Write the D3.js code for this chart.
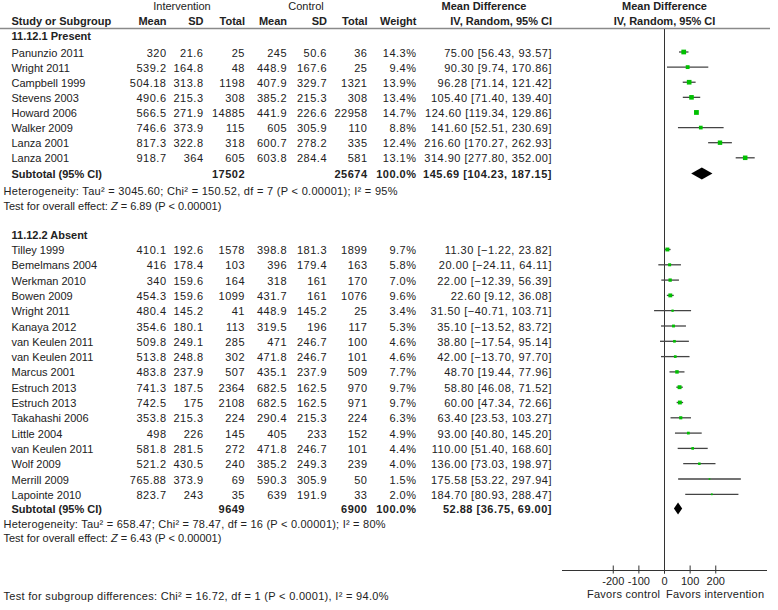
<!DOCTYPE html>
<html>
<head>
<meta http-equiv="Content-Type" content="text/html;charset=utf-8">
<script src="https://d3js.org/d3.v7.min.js"></script>
<style>
  body { margin: 0; background: #fff; }
  text { font-family: "Liberation Sans", Arial, sans-serif; font-size: 11px; fill: #222; }
  .b { font-weight: bold; }
  .n { letter-spacing: 0.5px; }
</style>
</head>
<body>
<div id="chart"></div>
<script>

// 11.12.1 Present
var names1 = ["Panunzio 2011", "Wright 2011", "Campbell 1999", "Stevens 2003", "Howard 2006", "Walker 2009", "Lanza 2001", "Lanza 2001"];
var intMean1 = [320, 539.2, 504.18, 490.6, 566.5, 746.6, 817.3, 918.7];
var intSD1 = [21.6, 164.8, 313.8, 215.3, 271.9, 373.9, 322.8, 364];
var intN1 = [25, 48, 1198, 308, 14885, 115, 318, 605];
var ctlMean1 = [245, 448.9, 407.9, 385.2, 441.9, 605, 600.7, 603.8];
var ctlSD1 = [50.6, 167.6, 329.7, 215.3, 226.6, 305.9, 278.2, 284.4];
var ctlN1 = [36, 25, 1321, 308, 22958, 110, 335, 581];
var weight1 = [14.3, 9.4, 13.9, 13.4, 14.7, 8.8, 12.4, 13.1];
var md1 = [75.00, 90.30, 96.28, 105.40, 124.60, 141.60, 216.60, 314.90];
var lo1 = [56.43, 9.74, 71.14, 71.40, 119.34, 52.51, 170.27, 277.80];
var hi1 = [93.57, 170.86, 121.42, 139.40, 129.86, 230.69, 262.93, 352.00];
var total1 = [17502, 25674];
var pooled1 = [145.69, 104.23, 187.15];

// 11.12.2 Absent
var names2 = ["Tilley 1999", "Bemelmans 2004", "Werkman 2010", "Bowen 2009", "Wright 2011", "Kanaya 2012", "van Keulen 2011", "van Keulen 2011", "Marcus 2001", "Estruch 2013", "Estruch 2013", "Takahashi 2006", "Little 2004", "van Keulen 2011", "Wolf 2009", "Merrill 2009", "Lapointe 2010"];
var intMean2 = [410.1, 416, 340, 454.3, 480.4, 354.6, 509.8, 513.8, 483.8, 741.3, 742.5, 353.8, 498, 581.8, 521.2, 765.88, 823.7];
var intSD2 = [192.6, 178.4, 159.6, 159.6, 145.2, 180.1, 249.1, 248.8, 237.9, 187.5, 175, 215.3, 226, 281.5, 430.5, 373.9, 243];
var intN2 = [1578, 103, 164, 1099, 41, 113, 285, 302, 507, 2364, 2108, 224, 145, 272, 240, 69, 35];
var ctlMean2 = [398.8, 396, 318, 431.7, 448.9, 319.5, 471, 471.8, 435.1, 682.5, 682.5, 290.4, 405, 471.8, 385.2, 590.3, 639];
var ctlSD2 = [181.3, 179.4, 161, 161, 145.2, 196, 246.7, 246.7, 237.9, 162.5, 162.5, 215.3, 233, 246.7, 249.3, 305.9, 191.9];
var ctlN2 = [1899, 163, 170, 1076, 25, 117, 100, 101, 509, 970, 971, 224, 152, 101, 239, 50, 33];
var weight2 = [9.7, 5.8, 7.0, 9.6, 3.4, 5.3, 4.6, 4.6, 7.7, 9.7, 9.7, 6.3, 4.9, 4.4, 4.0, 1.5, 2.0];
var md2 = [11.30, 20.00, 22.00, 22.60, 31.50, 35.10, 38.80, 42.00, 48.70, 58.80, 60.00, 63.40, 93.00, 110.00, 136.00, 175.58, 184.70];
var lo2 = [-1.22, -24.11, -12.39, 9.12, -40.71, -13.52, -17.54, -13.70, 19.44, 46.08, 47.34, 23.53, 40.80, 51.40, 73.03, 53.22, 80.93];
var hi2 = [23.82, 64.11, 56.39, 36.08, 103.71, 83.72, 95.14, 97.70, 77.96, 71.52, 72.66, 103.27, 145.20, 168.60, 198.97, 297.94, 288.47];
var total2 = [9649, 6900];
var pooled2 = [52.88, 36.75, 69.00];

var ticks = [-200, -100, 0, 100, 200];

var width = 778;
var height = 610;

var svg = d3.select("#chart").append("svg")
    .attr("width", width)
    .attr("height", height);

// effect axis
var x = d3.scaleLinear().domain([-400, 400]).range([562, 767]);

// right edges of the number columns
var col = { im: 166.5, isd: 203.5, in: 245, cm: 287, csd: 327, cn: 367.5, w: 416.5, ci: 552 };

var f2 = d3.format(".2f");
var f1 = d3.format(".1f");

function txt(xp, yp, s, anchor, cls, len) {
    var t = svg.append("text")
        .attr("x", xp)
        .attr("y", yp)
        .attr("text-anchor", anchor || "start")
        .attr("class", cls || null)
        .text(s);
    if (len) t.attr("textLength", len).attr("lengthAdjust", "spacing");
    return t;
}

// headers
txt(182, 9.5, "Intervention", "middle");
txt(306, 9.5, "Control", "middle");
txt(484, 9.5, "Mean Difference", "middle", "b");
txt(x(0), 9.5, "Mean Difference", "middle", "b");
txt(11.5, 24.5, "Study or Subgroup", "start", "b");
txt(col.im, 24.5, "Mean", "end", "b");
txt(col.isd, 24.5, "SD", "end", "b");
txt(col.in, 24.5, "Total", "end", "b");
txt(col.cm, 24.5, "Mean", "end", "b");
txt(col.csd, 24.5, "SD", "end", "b");
txt(col.cn, 24.5, "Total", "end", "b");
txt(col.w, 24.5, "Weight", "end", "b");
txt(col.ci, 24.5, "IV, Random, 95% CI", "end", "b");
txt(x(0), 24.5, "IV, Random, 95% CI", "middle", "b");

svg.append("line")
    .attr("x1", 0).attr("x2", 770)
    .attr("y1", 28.5).attr("y2", 28.5)
    .attr("stroke", "#8a8a8a")
    .attr("stroke-width", 1.5);

// line of no effect
svg.append("line")
    .attr("x1", x(0)).attr("x2", x(0))
    .attr("y1", 29).attr("y2", 573.5)
    .attr("stroke", "#333")
    .attr("stroke-width", 1);

function drawGroup(g) {
    var rows = g.names.map(function (n, i) {
        return { name: n, im: g.im[i], isd: g.isd[i], iN: g.iN[i], cm: g.cm[i], csd: g.csd[i], cN: g.cN[i],
                 w: g.w[i], md: g.md[i], lo: g.lo[i], hi: g.hi[i], i: i };
    });
    var y = d3.scaleLinear().domain([0, rows.length - 1]).range([g.y0, g.y1]);

    txt(11.5, g.labelY, g.label, "start", "b");

    var r = svg.append("g").selectAll("g")
        .data(rows)
        .enter().append("g")
        .attr("transform", function (d) { return "translate(0," + y(d.i) + ")"; });

    function num(xp, fn) {
        r.append("text").attr("class", "n").attr("x", xp).attr("y", 4.5)
            .attr("text-anchor", "end").text(fn);
    }

    r.append("text").attr("x", 11.5).attr("y", 4.5).text(function (d) { return d.name; });
    num(col.im, function (d) { return d.im; });
    num(col.isd, function (d) { return d.isd; });
    num(col.in, function (d) { return d.iN; });
    num(col.cm, function (d) { return d.cm; });
    num(col.csd, function (d) { return d.csd; });
    num(col.cn, function (d) { return d.cN; });
    num(col.w, function (d) { return f1(d.w) + "%"; });
    num(col.ci, function (d) { return f2(d.md) + " [" + f2(d.lo) + ", " + f2(d.hi) + "]"; });

    // confidence intervals
    r.append("line")
        .attr("x1", function (d) { return x(d.lo); })
        .attr("x2", function (d) { return x(d.hi); })
        .attr("y1", 0).attr("y2", 0)
        .attr("stroke", "#444")
        .attr("stroke-width", 1.3);

    // weight boxes
    r.append("rect")
        .attr("x", function (d) { return x(d.md) - Math.max(1.6, 1.25 * Math.sqrt(d.w)) / 2; })
        .attr("y", function (d) { return -Math.max(1.6, 1.25 * Math.sqrt(d.w)) / 2; })
        .attr("width", function (d) { return Math.max(1.6, 1.25 * Math.sqrt(d.w)); })
        .attr("height", function (d) { return Math.max(1.6, 1.25 * Math.sqrt(d.w)); })
        .attr("fill", "#00c000");

    // subtotal
    txt(11.5, g.subY + 4.5, "Subtotal (95% CI)", "start", "b");
    txt(col.in, g.subY + 4.5, g.total[0], "end", "b n");
    txt(col.cn, g.subY + 4.5, g.total[1], "end", "b n");
    txt(col.w, g.subY + 4.5, "100.0%", "end", "b n");
    txt(col.ci, g.subY + 4.5, f2(g.pooled[0]) + " [" + f2(g.pooled[1]) + ", " + f2(g.pooled[2]) + "]", "end", "b n");

    svg.append("path")
        .attr("d", "M" + x(g.pooled[1]) + "," + g.subY +
                   "L" + x(g.pooled[0]) + "," + (g.subY - 6) +
                   "L" + x(g.pooled[2]) + "," + g.subY +
                   "L" + x(g.pooled[0]) + "," + (g.subY + 6) + "Z")
        .attr("fill", "#000");

    txt(3.5, g.hetY, g.het, "start", null, g.hetLen);
    var t = txt(3.5, g.testY, "Test for overall effect: ");
    t.append("tspan").attr("font-style", "italic").text("Z");
    t.append("tspan").text(" = " + g.z + " (P < 0.00001)");
}

drawGroup({
    label: "11.12.1 Present", labelY: 40,
    names: names1, im: intMean1, isd: intSD1, iN: intN1, cm: ctlMean1, csd: ctlSD1, cN: ctlN1,
    w: weight1, md: md1, lo: lo1, hi: hi1, total: total1, pooled: pooled1,
    y0: 52, y1: 157.8, subY: 173.5, hetY: 195, testY: 209.5,
    het: "Heterogeneity: Tau\u00b2 = 3045.60; Chi\u00b2 = 150.52, df = 7 (P < 0.00001); I\u00b2 = 95%",
    hetLen: 394,
    z: "6.89"
});

drawGroup({
    label: "11.12.2 Absent", labelY: 239,
    names: names2, im: intMean2, isd: intSD2, iN: intN2, cm: ctlMean2, csd: ctlSD2, cN: ctlN2,
    w: weight2, md: md2, lo: lo2, hi: hi2, total: total2, pooled: pooled2,
    y0: 249.5, y1: 494.3, subY: 508.5, hetY: 527.5, testY: 541.5,
    het: "Heterogeneity: Tau\u00b2 = 658.47; Chi\u00b2 = 78.47, df = 16 (P < 0.00001); I\u00b2 = 80%",
    hetLen: 382,
    z: "6.43"
});

// bottom axis
var axis = svg.append("g")
    .attr("transform", "translate(0,570.5)");
axis.append("line")
    .attr("x1", x.range()[0]).attr("x2", x.range()[1])
    .attr("stroke", "#333");
axis.selectAll(".tk")
    .data(ticks)
    .enter().append("line")
    .attr("class", "tk")
    .attr("x1", function (d) { return x(d); })
    .attr("x2", function (d) { return x(d); })
    .attr("y1", -5).attr("y2", 3)
    .attr("stroke", "#333");
axis.selectAll(".tl")
    .data(ticks)
    .enter().append("text")
    .attr("class", "tl")
    .attr("x", function (d) { return x(d); })
    .attr("y", 14.5)
    .attr("text-anchor", "middle")
    .text(function (d) { return d; });

txt(587, 597.5, "Favors control", "start", null, 73);
txt(666, 597.5, "Favors intervention", "start", null, 98);

txt(3.5, 600, "Test for subgroup differences: Chi\u00b2 = 16.72, df = 1 (P < 0.0001), I\u00b2 = 94.0%", "start", null, 385);

</script>
</body>
</html>
